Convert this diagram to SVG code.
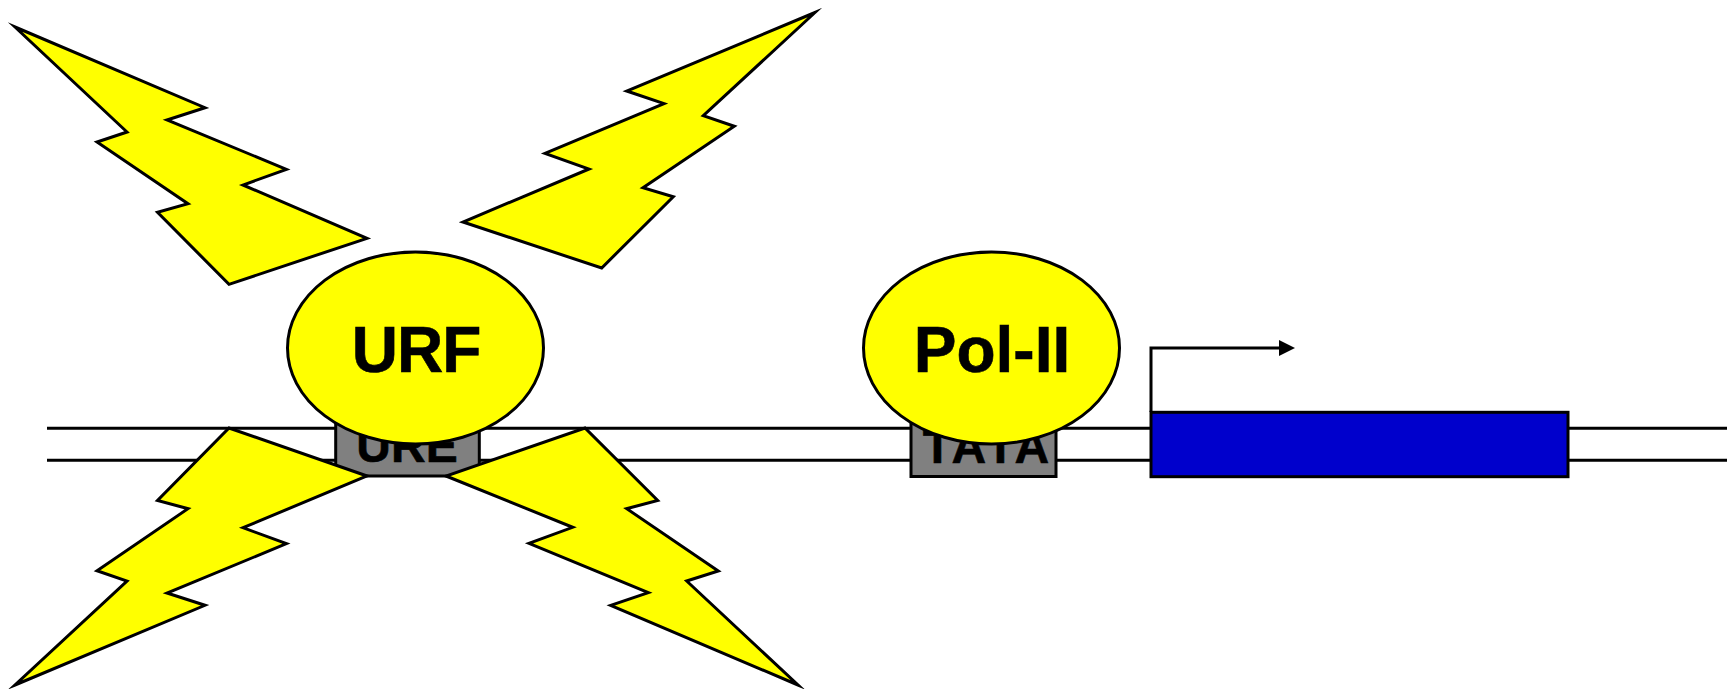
<svg xmlns="http://www.w3.org/2000/svg" width="1733" height="689" viewBox="0 0 1733 689">
<style>
.s{stroke:#000;stroke-width:3;stroke-miterlimit:12}
.y{fill:#ff0}
.g{fill:#808080}
.t{font-family:"Liberation Sans",Arial,sans-serif;font-weight:bold;fill:#000;text-anchor:middle;stroke:#000;stroke-width:.6}
.big{font-size:64px}
.mid{font-size:48px}
</style>
<defs><marker id="ah" markerUnits="userSpaceOnUse" markerWidth="17" markerHeight="17" refX="1" refY="8" orient="auto"><path d="M0,0L16,8L0,16Z" fill="#000"/></marker></defs>
<g id="connectors" fill="none" class="s">
<path d="M47,428.3H1727M47,460.3H1727"/>
<path d="M1151,412V348H1280" marker-end="url(#ah)"/>
</g>
<g id="ure"><rect class="s g" x="335.7" y="415" width="143.6" height="61"/><text class="t mid" x="407" y="461.5">URE</text></g>
<g id="tata"><rect class="s g" x="911" y="415" width="145" height="61.5"/><text class="t mid" x="987.5" y="462.5" letter-spacing="3">TATA</text></g>
<g id="gene"><rect class="s" fill="#0000cc" x="1151" y="412.3" width="417" height="64.4"/></g>
<g id="bolt-top-left"><polygon class="s y" points="15,27 205,107.7 167,120 286.4,169.3 243,185 367,238.3 229,284.3 157.5,212.3 188,203.7 97,142 127,132"/></g>
<g id="bolt-top-right"><polygon class="s y" points="815,12.5 626.7,91 664,103.7 545,153.3 589,169 463,222 601.7,268 673.3,196.7 643,187.7 734.3,126.3 703.3,115.7"/></g>
<g id="bolt-bottom-left"><polygon class="s y" points="15,685 205,605.3 167,593 286.4,543.7 243,527.7 367,476 229,428 157.5,500.5 188,508.7 97,570.7 127,581"/></g>
<g id="bolt-bottom-right"><polygon class="s y" points="798,685 610.7,605.3 648.3,592.7 529,543.3 572.7,527.3 446,476 585,428 657.7,500.5 626.7,508.7 718.3,571 686.7,581"/></g>
<g id="urf"><ellipse class="s y" cx="415.5" cy="348" rx="128" ry="96"/><text class="t big" x="416" y="372" letter-spacing="-1">URF</text></g>
<g id="pol2"><ellipse class="s y" cx="991.5" cy="348" rx="128" ry="96"/><text class="t big" x="992" y="372">Pol-II</text></g>
</svg>
